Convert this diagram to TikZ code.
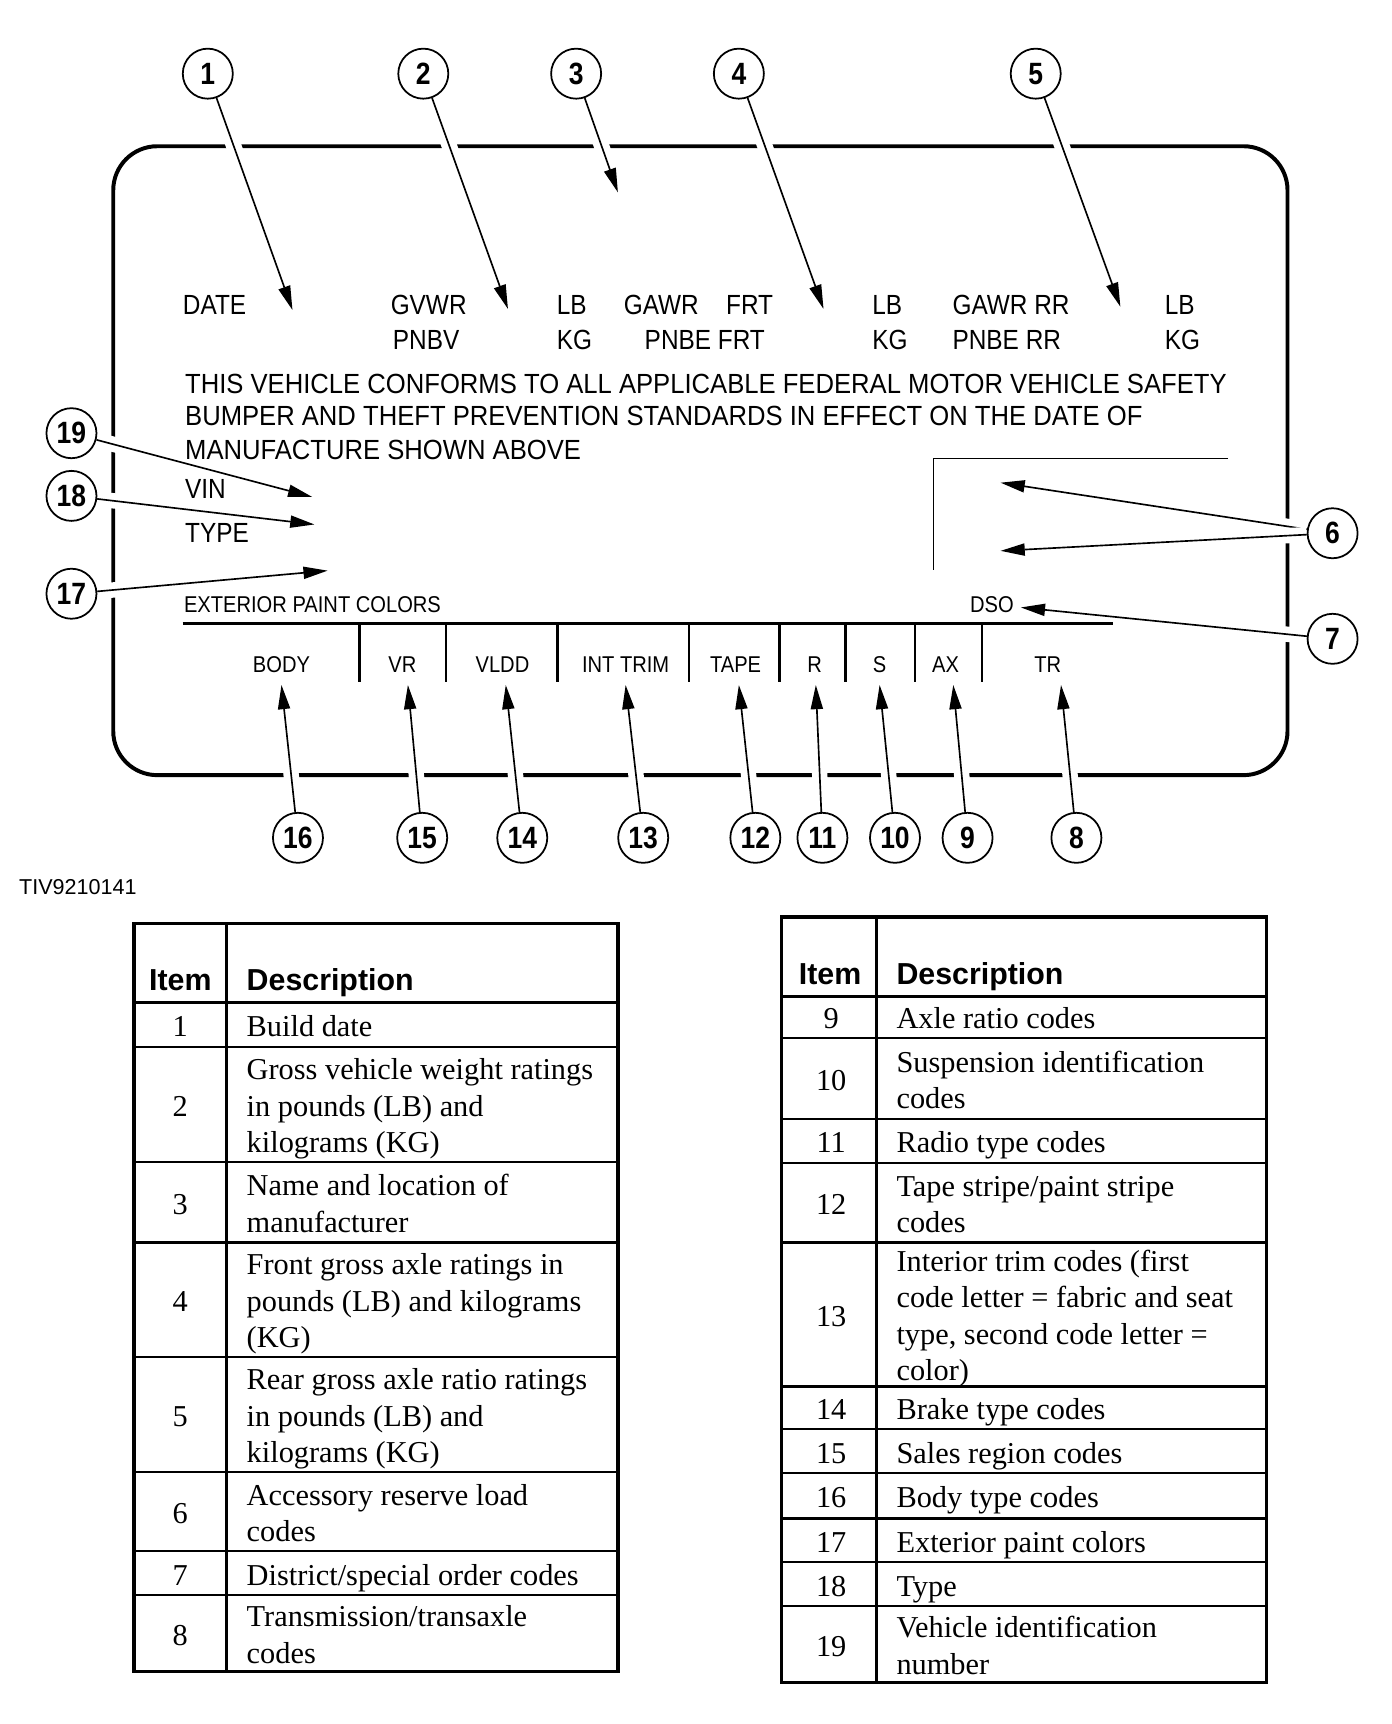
\documentclass[tikz,border=0pt]{standalone}
\usepackage{fontspec}
\setmainfont{Liberation Serif}
\newfontfamily\tagfont[FakeStretch=0.88]{Liberation Sans}
\newfontfamily\parfont[FakeStretch=0.925]{Liberation Sans}
\newfontfamily\numfont[FakeStretch=0.86]{Liberation Sans}
\newfontfamily\headfont{Liberation Sans}
\usetikzlibrary{arrows.meta}
\pgfdeclarelayer{bg}
\pgfsetlayers{bg,main}

\begin{document}
\begin{tikzpicture}[x=0.5pt,y=-0.5pt,
  lbl/.style={font=\tagfont\fontsize{12.6}{15}\selectfont,inner sep=0pt,anchor=base west},
  par/.style={lbl,font=\parfont\fontsize{12.6}{15}\selectfont},
  sml/.style={font=\tagfont\fontsize{10.4}{12}\selectfont,inner sep=0pt},
  num/.style={circle,draw,line width=0.8pt,minimum size=22.75pt,inner sep=0pt,
              font=\numfont\bfseries\fontsize{14}{14}\selectfont},
  lead/.style={-{Triangle[length=11pt,width=5.5pt]},line width=0.75pt,
               preaction={draw=white,line width=7pt,-}},
  rim/.style={line width=1.8pt,rounded corners=20pt},
  divline/.style={line width=1pt},
  cell/.style={font=\fontsize{13.8}{16.6}\selectfont,inner sep=0pt,align=left,yshift=-2pt},
  hd/.style={font=\headfont\bfseries\fontsize{13.8}{16}\selectfont,inner sep=0pt},
  tframe/.style={line width=1.5pt},
  tline/.style={line width=1pt}]
 \useasboundingbox (0,0) rectangle (1266,1568);

 \node[lbl] (date) at (166,286) {DATE};
 \node[lbl] (gvwr) at (355,286) {GVWR};
 \node[lbl] (lba) at (506,286) {LB};
 \node[lbl] (gawr) at (567,286) {GAWR};
 \node[lbl] (frt) at (660,286) {FRT};
 \node[lbl] (lbb) at (793,286) {LB};
 \node[lbl] (gawrr) at (866,286) {GAWR RR};
 \node[lbl] (lbc) at (1059,286) {LB};
 \node[lbl] (pnbv) at (357,318) {PNBV};
 \node[lbl] (kga) at (506,318) {KG};
 \node[lbl] (pnbef) at (586,318) {PNBE FRT};
 \node[lbl] (kgb) at (793,318) {KG};
 \node[lbl] (pnber) at (866,318) {PNBE RR};
 \node[lbl] (kgc) at (1059,318) {KG};
 \node[par] (confa) at (168,358) {THIS VEHICLE CONFORMS TO ALL APPLICABLE FEDERAL MOTOR VEHICLE SAFETY};
 \node[par] (confb) at (168,387) {BUMPER AND THEFT PREVENTION STANDARDS IN EFFECT ON THE DATE OF};
 \node[par] (confc) at (168,418) {MANUFACTURE SHOWN ABOVE};
 \node[lbl] (vin) at (168,453) {VIN};
 \node[lbl] (type) at (168,493) {TYPE};
 \node[sml,anchor=base west] (paint) at (167,557) {EXTERIOR PAINT COLORS};
 \node[sml,anchor=base west,inner sep=3pt] (dso) at (876,557) {DSO};
 \foreach \x/\n/\t in {256/body/BODY,366/vr/VR,457/vldd/VLDD,569/trim/INT TRIM,669/tape/TAPE,
                       741/r/R,800/s/S,860/ax/AX,953/tr/TR}
   \node[sml,anchor=base] (\n) at (\x,612) {\t};
 \draw[divline] (166,567) -- (1012,567);
 \foreach \x in {327,406,507,627,709,769,832,893}
   \draw[divline] (\x,567) -- (\x,620);
 \draw[line width=0.8pt] (1117,417) -- (849,417) -- (849,518);

 \foreach \n/\x/\y in {1/189/67,2/385/67,3/524/67,4/672/67,5/942/67,6/1212/485,7/1212/581,
                       8/979/762,9/880/762,10/814/762,11/748/762,12/687/762,13/585/762,
                       14/475/762,15/384/762,16/271/762,17/65/540,18/65/451,19/65/394}
   \node[num] (c\n) at (\x,\y) {\n};

 \coordinate (t1) at (266,282); \coordinate (t2) at (462,281); \coordinate (t3) at (562,175);
 \coordinate (t4) at (749,281); \coordinate (t5) at (1019,279);
 \coordinate (t6a) at (910,439); \coordinate (t6b) at (910,501);
 \foreach \n/\x in {8/965,9/867,10/800,11/742,12/672,13/569,14/460,15/371,16/256}
   \coordinate (t\n) at (\x,623);
 \coordinate (t17) at (298,519); \coordinate (t18) at (286,477); \coordinate (t19) at (284,452);

 \begin{pgfonlayer}{bg}
  \draw[rim] (103,133) rectangle (1171,705);
  \foreach \n in {1,2,3,4,5,8,9,10,11,12,13,14,15,16,17,18,19}
    \draw[lead] (c\n) -- (t\n);
  \draw[lead] (c6) -- (t6a);
  \draw[lead] (c6) -- (t6b);
  \draw[lead] (c7) -- (dso);
 \end{pgfonlayer}

 \node[font=\headfont\fontsize{9.8}{11}\selectfont,anchor=base west,inner sep=0pt] (fig) at (17,814) {TIV9210141};

 \node[hd,anchor=base] (itema) at (164,901) {Item};
 \node[hd,anchor=base west] (desca) at (224,901) {Description};
 \foreach \i/\t/\b/\txt in {1/912/952/{Build date},
     2/952/1057/{Gross vehicle weight ratings\\in pounds (LB) and\\kilograms (KG)},
     3/1057/1130/{Name and location of\\manufacturer},
     4/1130/1234/{Front gross axle ratings in\\pounds (LB) and kilograms\\(KG)},
     5/1234/1339/{Rear gross axle ratio ratings\\in pounds (LB) and\\kilograms (KG)},
     6/1339/1411/{Accessory reserve load\\codes},
     7/1411/1451/{District/special order codes},
     8/1451/1520/{Transmission/transaxle\\codes}}{
   \draw[tline] (122,\b) -- (562,\b);
   \node[cell] (n\i) at (164,{(\t+\b)/2}) {\strut\i};
   \node[cell,anchor=west] (d\i) at (224,{(\t+\b)/2}) {\strut\txt\strut};
 }
 \draw[tframe] (122,912) -- (562,912);
 \draw[tframe] (206,840) -- (206,1520);
 \draw[tframe] (122,840) rectangle (562,1520);

 \node[hd,anchor=base] (itemb) at (755,895) {Item};
 \node[hd,anchor=base west] (descb) at (815,895) {Description};
 \foreach \i/\t/\b/\txt in {9/906/944/{Axle ratio codes},
     10/944/1018/{Suspension identification\\codes},
     11/1018/1058/{Radio type codes},
     12/1058/1130/{Tape stripe/paint stripe\\codes},
     13/1130/1261/{Interior trim codes (first\\code letter = fabric and seat\\type, second code letter =\\color)},
     14/1261/1300/{Brake type codes},
     15/1300/1340/{Sales region codes},
     16/1340/1381/{Body type codes},
     17/1381/1421/{Exterior paint colors},
     18/1421/1461/{Type},
     19/1461/1530/{Vehicle identification\\number}}{
   \draw[tline] (711,\b) -- (1152,\b);
   \node[cell] (n\i) at (756,{(\t+\b)/2}) {\strut\i};
   \node[cell,anchor=west] (d\i) at (815,{(\t+\b)/2}) {\strut\txt\strut};
 }
 \draw[tframe] (711,906) -- (1152,906);
 \draw[tframe] (797,834) -- (797,1530);
 \draw[tframe] (711,834) rectangle (1152,1530);
\end{tikzpicture}
\end{document}
